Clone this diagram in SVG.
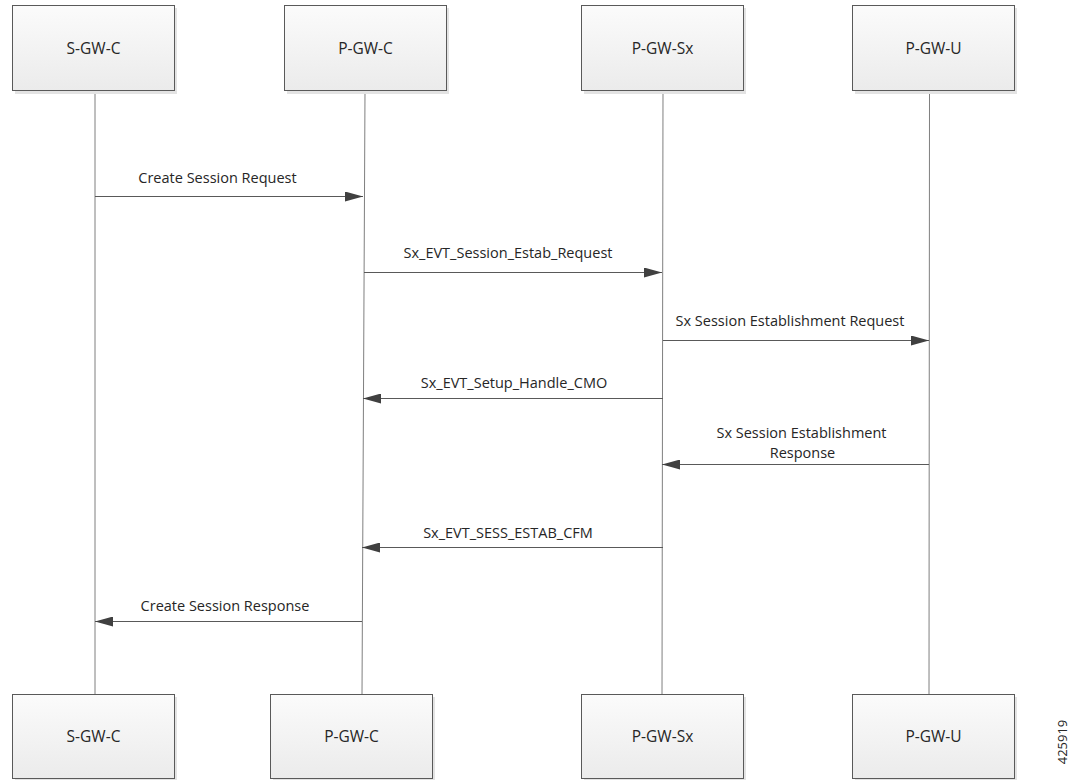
<svg xmlns="http://www.w3.org/2000/svg" width="1069" height="780" viewBox="0 0 1069 780">
<defs>
<linearGradient id="g" x1="0" y1="0" x2="0" y2="1">
<stop offset="0" stop-color="#fbfbfb"/>
<stop offset="1" stop-color="#ebebeb"/>
</linearGradient>
<marker id="a" markerWidth="18" markerHeight="10" refX="18" refY="5" orient="auto" markerUnits="userSpaceOnUse">
<path d="M0,0 L18,5 L0,10 Z" fill="#404040"/>
</marker>
</defs>
<style>
.box{fill:url(#g);stroke:#595959;stroke-width:1}
.sh{fill:#e3e3e3}
.t{font-family:"Open Sans","Noto Sans",sans-serif;font-size:14.5px;fill:#262626;text-anchor:middle}
.bt{font-family:"Open Sans","Noto Sans",sans-serif;font-size:15.5px;fill:#262626;text-anchor:middle}
.life{stroke:#7f7f7f;stroke-width:1;fill:none}
.msg{stroke:#595959;stroke-width:1;fill:none;marker-end:url(#a)}
</style>
<rect width="1069" height="780" fill="#fff"/>
<g id="lifelines">
<line class="life" x1="95" y1="91" x2="95" y2="694"/>
<line class="life" x1="365" y1="91" x2="362" y2="694"/>
<line class="life" x1="663" y1="91" x2="662" y2="694"/>
<line class="life" x1="929.5" y1="91" x2="929" y2="694"/>
</g>
<g id="n1"><rect class="sh" x="15" y="8" width="162" height="86"/><rect class="box" x="12.5" y="5.5" width="162" height="85"/><text class="bt" x="93.5" y="54">S-GW-C</text></g>
<g id="n2"><rect class="sh" x="287" y="8" width="162" height="86"/><rect class="box" x="284.5" y="5.5" width="162" height="85"/><text class="bt" x="365.5" y="54">P-GW-C</text></g>
<g id="n3"><rect class="sh" x="584" y="8" width="162" height="86"/><rect class="box" x="581.5" y="5.5" width="162" height="85"/><text class="bt" x="662.5" y="54">P-GW-Sx</text></g>
<g id="n4"><rect class="sh" x="855" y="8" width="162" height="86"/><rect class="box" x="852.5" y="5.5" width="162" height="85"/><text class="bt" x="933.5" y="54">P-GW-U</text></g>
<g id="n5"><rect class="sh" x="15" y="697" width="162" height="86"/><rect class="box" x="12.5" y="694.5" width="162" height="84"/><text class="bt" x="93.5" y="742">S-GW-C</text></g>
<g id="n6"><rect class="sh" x="273" y="697" width="162" height="86"/><rect class="box" x="270.5" y="694.5" width="162" height="84"/><text class="bt" x="351.5" y="742">P-GW-C</text></g>
<g id="n7"><rect class="sh" x="584" y="697" width="162" height="86"/><rect class="box" x="581.5" y="694.5" width="162" height="84"/><text class="bt" x="662.5" y="742">P-GW-Sx</text></g>
<g id="n8"><rect class="sh" x="855" y="697" width="162" height="86"/><rect class="box" x="852.5" y="694.5" width="162" height="84"/><text class="bt" x="933.5" y="742">P-GW-U</text></g>
<g id="connectors">
<line class="msg" x1="95" y1="196.5" x2="363" y2="196.5"/>
<text class="t" x="217.5" y="183">Create Session Request</text>
<line class="msg" x1="364" y1="272.5" x2="662" y2="272.5"/>
<text class="t" x="508" y="258">Sx_EVT_Session_Estab_Request</text>
<line class="msg" x1="663" y1="340.5" x2="929" y2="340.5"/>
<text class="t" x="790" y="326">Sx Session Establishment Request</text>
<line class="msg" x1="663" y1="398.5" x2="363" y2="398.5"/>
<text class="t" x="514" y="388">Sx_EVT_Setup_Handle_CMO</text>
<line class="msg" x1="929" y1="464.5" x2="662" y2="464.5"/>
<text class="t" x="801.5" y="438">Sx Session Establishment</text>
<text class="t" x="802.5" y="458">Response</text>
<line class="msg" x1="663" y1="547.5" x2="362" y2="547.5"/>
<text class="t" x="508" y="538">Sx_EVT_SESS_ESTAB_CFM</text>
<line class="msg" x1="362" y1="621.5" x2="95" y2="621.5"/>
<text class="t" x="225" y="611">Create Session Response</text>
</g>
<text transform="translate(1067,742) rotate(-90)" style="font-family:'Open Sans','Noto Sans',sans-serif;font-size:13px;fill:#262626;text-anchor:middle">425919</text>
</svg>
